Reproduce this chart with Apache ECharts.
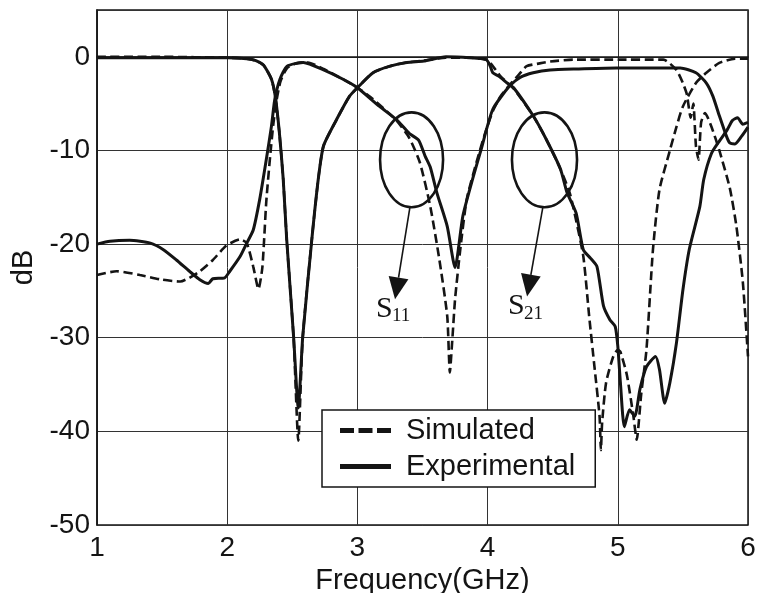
<!DOCTYPE html>
<html>
<head>
<meta charset="utf-8">
<style>
  html, body { margin: 0; padding: 0; background: #fff; }
  #chart { width: 758px; height: 593px; }
</style>
<script src="https://cdn.jsdelivr.net/npm/echarts@6/dist/echarts.min.js"></script>
</head>
<body>
<div id="chart"></div>
<script>
// Axis setup
const freqRange = [1, 6];          // GHz
const dbRange = [-50, 5];          // dB
const xTicks = [1, 2, 3, 4, 5, 6];
const yTicks = [-50, -40, -30, -20, -10, 0];

// Simulated S11 (dashed) [GHz, dB]
const s11Sim = [
  [1.0,-23.3],[1.15,-22.9],[1.33,-23.3],[1.5,-23.8],[1.64,-24.0],[1.71,-23.6],[1.79,-22.9],
  [1.89,-21.7],[1.99,-20.2],[2.10,-19.5],[2.15,-19.9],[2.20,-22.4],[2.24,-24.8],[2.27,-22.5],
  [2.30,-15.5],[2.33,-10.6],[2.355,-7.1],[2.38,-4.6],[2.41,-2.6],[2.46,-1.2],[2.53,-0.7],
  [2.62,-0.6],[2.74,-1.3],[2.89,-2.4],[3.0,-3.3],[3.1,-4.3],[3.2,-5.5],[3.3,-6.8],[3.4,-8.7],
  [3.48,-11.3],[3.56,-16.0],[3.63,-21.7],[3.69,-27.7],[3.71,-33.7],[3.73,-30.0],[3.75,-25.9],
  [3.79,-20.6],[3.84,-15.2],[3.92,-11.0],[3.98,-8.2],[4.04,-5.8],[4.1,-4.2],[4.17,-3.0],
  [4.24,-1.9],[4.30,-1.0],[4.4,-0.7],[4.48,-0.5],[4.66,-0.3],[5.0,-0.3],[5.35,-0.3],
  [5.45,-1.4],[5.50,-2.8],[5.53,-4.0],[5.56,-6.5],[5.58,-5.0],[5.60,-9.5],[5.62,-11.0],
  [5.64,-7.0],[5.67,-6.0],[5.72,-7.5],[5.78,-10.0],[5.86,-14.0],[5.91,-18.0],[5.96,-24.0],[6.0,-32.0]
];

// Measured S11 (solid)
const s11Exp = [
  [1.0,-20.0],[1.1,-19.7],[1.25,-19.6],[1.41,-19.9],[1.51,-20.6],[1.61,-21.7],[1.71,-22.9],
  [1.79,-23.8],[1.855,-24.2],[1.89,-23.7],[1.98,-23.6],[2.02,-22.9],[2.10,-21.3],[2.15,-19.9],
  [2.20,-18.5],[2.25,-15.2],[2.30,-11.0],[2.34,-7.4],[2.365,-4.6],[2.405,-2.4],[2.46,-1.0],
  [2.585,-0.6],[2.74,-1.4],[2.89,-2.4],[3.0,-3.3],[3.17,-5.3],[3.3,-6.7],[3.4,-8.2],[3.47,-8.9],
  [3.52,-10.6],[3.56,-11.8],[3.61,-14.5],[3.69,-18.1],[3.75,-22.5],[3.81,-17.0],[3.89,-12.8],
  [3.95,-9.9],[4.04,-5.6],[4.17,-3.1],[4.25,-2.2],[4.35,-1.7],[4.48,-1.4],[4.7,-1.3],
  [4.99,-1.2],[5.2,-1.2],[5.37,-1.2],[5.48,-1.2],[5.60,-1.7],[5.68,-2.8],[5.73,-4.2],
  [5.78,-6.3],[5.835,-8.5],[5.86,-9.2],[5.9,-9.3],[5.95,-8.5],[6.0,-7.5]
];

// Simulated S21 (dashed)
const s21Sim = [
  [1.0,0.0],[1.5,0.0],[2.0,-0.1],[2.15,-0.2],[2.22,-0.4],[2.28,-0.9],[2.34,-2.4],[2.37,-4.3],
  [2.40,-8.0],[2.43,-13.0],[2.457,-19.5],[2.51,-30.0],[2.546,-41.0],[2.58,-30.0],[2.65,-19.5],
  [2.70,-13.0],[2.74,-9.5],[2.84,-6.7],[2.94,-4.2],[3.0,-3.3],[3.12,-1.7],[3.25,-1.0],
  [3.38,-0.6],[3.51,-0.4],[3.68,-0.1],[3.86,-0.1],[3.99,-0.3],[4.03,-0.8],[4.1,-2.1],
  [4.2,-3.4],[4.35,-6.3],[4.45,-8.8],[4.56,-12.0],[4.63,-14.5],[4.66,-16.2],[4.735,-21.3],
  [4.78,-27.7],[4.82,-33.0],[4.86,-38.4],[4.87,-42.0],[4.88,-39.0],[4.91,-34.8],[4.965,-32.0],
  [5.0,-31.3],[5.02,-31.5],[5.07,-34.0],[5.12,-38.4],[5.145,-40.9],[5.18,-36.0],[5.22,-31.3],
  [5.27,-20.6],[5.32,-14.2],[5.40,-10.0],[5.45,-7.5],[5.50,-5.3],[5.60,-2.8],[5.68,-1.7],
  [5.78,-0.65],[5.9,-0.2],[6.0,-0.2]
];

// Measured S21 (solid)
const s21Exp = [
  [1.0,-0.1],[1.5,-0.1],[2.0,-0.1],[2.15,-0.2],[2.22,-0.4],[2.28,-0.9],[2.34,-2.4],[2.37,-4.3],
  [2.40,-8.0],[2.43,-13.0],[2.457,-19.5],[2.51,-29.9],[2.546,-37.5],[2.58,-29.9],[2.65,-19.5],
  [2.70,-13.0],[2.74,-9.5],[2.84,-6.7],[2.94,-4.2],[3.0,-3.3],[3.12,-1.7],[3.25,-1.0],
  [3.38,-0.6],[3.51,-0.45],[3.68,0.0],[3.86,-0.1],[3.99,-0.3],[4.02,-1.0],[4.04,-1.7],
  [4.09,-2.1],[4.15,-2.8],[4.2,-3.3],[4.35,-6.3],[4.45,-8.8],[4.56,-12.0],[4.61,-14.5],
  [4.68,-16.7],[4.735,-20.6],[4.79,-21.5],[4.84,-22.4],[4.89,-26.6],[4.94,-28.1],[4.98,-28.8],
  [5.0,-30.9],[5.02,-34.8],[5.05,-39.5],[5.09,-37.7],[5.13,-38.4],[5.17,-35.5],[5.22,-33.1],
  [5.29,-32.0],[5.32,-33.4],[5.36,-37.0],[5.40,-34.8],[5.45,-30.6],[5.50,-24.9],[5.55,-20.5],
  [5.63,-16.0],[5.66,-13.1],[5.72,-10.3],[5.78,-9.0],[5.84,-7.8],[5.88,-6.8],[5.92,-6.5],
  [5.96,-7.2],[6.0,-7.0]
];

// Callouts: ellipse centre/radii and arrow tip, all in axis units
const callouts = [
  { cx: 3.416, cy: -11.0, rx: 0.242, ry: 5.07, tipX: 3.289, tipY: -25.9, main: 'S', sub: '11' },
  { cx: 4.437, cy: -11.0, rx: 0.25,  ry: 5.07, tipX: 4.303, tipY: -25.6, main: 'S', sub: '21' }
];

const INK = '#141414';
const SANS = '"Liberation Sans", Arial, Helvetica, sans-serif';
const SERIF = '"Liberation Serif", "Times New Roman", serif';
const DASH = [9, 4.5];

// Legend keys: a thick bar, and the same bar broken into three dashes
const ICON_SOLID = 'path://M0,0h51v5h-51z';
const ICON_DASHED = 'path://M0,0h14v5h-14zM18.5,0h14v5h-14zM37,0h14v5h-14z';

function curve(name, data, dashed) {
  return {
    type: 'line',
    name: name,
    data: data,
    symbol: 'none',
    smooth: 0.2,
    z: dashed ? 3 : 2,
    lineStyle: { color: INK, width: dashed ? 2.6 : 3, type: dashed ? DASH : 'solid' },
    itemStyle: { color: INK },
    emphasis: { disabled: true }
  };
}

const chart = echarts.init(document.getElementById('chart'), null, { renderer: 'canvas' });

chart.setOption({
  backgroundColor: '#ffffff',
  animation: false,
  grid: {
    left: 97, right: 10, top: 10, bottom: 68,
    show: true, borderColor: INK, borderWidth: 1.5,
    outerBoundsMode: 'none'
  },
  xAxis: {
    type: 'value',
    min: freqRange[0], max: freqRange[1], interval: 1,
    name: 'Frequency(GHz)',
    nameLocation: 'middle',
    nameGap: 36,
    nameTextStyle: { fontFamily: SANS, fontSize: 29, color: INK },
    axisLine: { show: true, lineStyle: { color: INK, width: 1.5 } },
    axisTick: { show: false },
    splitLine: { show: true, lineStyle: { color: '#333', width: 1 } },
    axisLabel: {
      margin: 9, fontFamily: SANS, fontSize: 28, color: INK,
      formatter: v => xTicks.includes(v) ? String(v) : ''
    }
  },
  yAxis: {
    type: 'value',
    min: dbRange[0], max: dbRange[1], interval: 10,
    name: 'dB',
    nameLocation: 'middle',
    nameRotate: 90,
    nameGap: 58,
    nameTextStyle: { fontFamily: SANS, fontSize: 29, color: INK },
    axisLine: { show: true, lineStyle: { color: INK, width: 1.5 } },
    axisTick: { show: false },
    splitLine: { show: true, lineStyle: { color: '#333', width: 1 } },
    axisLabel: {
      margin: 7, fontFamily: SANS, fontSize: 28, color: INK,
      showMaxLabel: false,
      formatter: v => yTicks.includes(v) ? String(v) : ''
    }
  },
  legend: {
    show: true,
    orient: 'vertical',
    left: 322, top: 410,
    backgroundColor: '#ffffff',
    borderColor: INK, borderWidth: 1.5,
    padding: [6, 20, 6, 18],
    itemGap: 7,
    itemWidth: 51, itemHeight: 14,
    z: 10,
    textStyle: { fontFamily: SANS, fontSize: 29, color: INK, padding: [0, 0, 0, 10] },
    data: [
      { name: 'Simulated', icon: ICON_DASHED },
      { name: 'Experimental', icon: ICON_SOLID }
    ]
  },
  series: [
    curve('Simulated', s11Sim, true),
    curve('Experimental', s11Exp, false),
    curve('Simulated', s21Sim, true),
    curve('Experimental', s21Exp, false),
    {
      type: 'custom',
      name: 'callouts',
      coordinateSystem: 'cartesian2d',
      silent: true,
      z: 5,
      data: callouts.map(c => [c.cx, c.cy, c.rx, c.ry, c.tipX, c.tipY]),
      encode: { x: 0, y: 1 },
      renderItem: function (params, api) {
        const info = callouts[params.dataIndex];
        const c = api.coord([api.value(0), api.value(1)]);
        const sz = api.size([api.value(2), api.value(3)]);
        const tip = api.coord([api.value(4), api.value(5)]);
        const start = [c[0] - 1.5, c[1] + sz[1] - 1];
        const dx = tip[0] - start[0], dy = tip[1] - start[1];
        const len = Math.sqrt(dx * dx + dy * dy);
        const ux = dx / len, uy = dy / len;
        const headL = 22, headW = 10;
        const base = [tip[0] - ux * headL, tip[1] - uy * headL];
        return {
          type: 'group',
          children: [
            {
              type: 'ellipse',
              shape: { cx: c[0], cy: c[1], rx: sz[0], ry: sz[1] },
              style: { fill: 'none', stroke: INK, lineWidth: 2.6 }
            },
            {
              type: 'line',
              shape: { x1: start[0], y1: start[1], x2: base[0], y2: base[1] },
              style: { stroke: INK, lineWidth: 1.6 }
            },
            {
              type: 'polygon',
              shape: { points: [
                [tip[0], tip[1]],
                [base[0] - uy * headW, base[1] + ux * headW],
                [base[0] + uy * headW, base[1] - ux * headW]
              ] },
              style: { fill: INK }
            },
            {
              type: 'text',
              x: tip[0] - 19, y: tip[1] + 10,
              style: { text: info.main, font: '30px ' + SERIF, fill: INK,
                       align: 'left', verticalAlign: 'middle' }
            },
            {
              type: 'text',
              x: tip[0] - 3, y: tip[1] + 17,
              style: { text: info.sub, font: '19px ' + SERIF, fill: INK,
                       align: 'left', verticalAlign: 'middle' }
            }
          ]
        };
      }
    }
  ]
});
</script>
</body>
</html>
